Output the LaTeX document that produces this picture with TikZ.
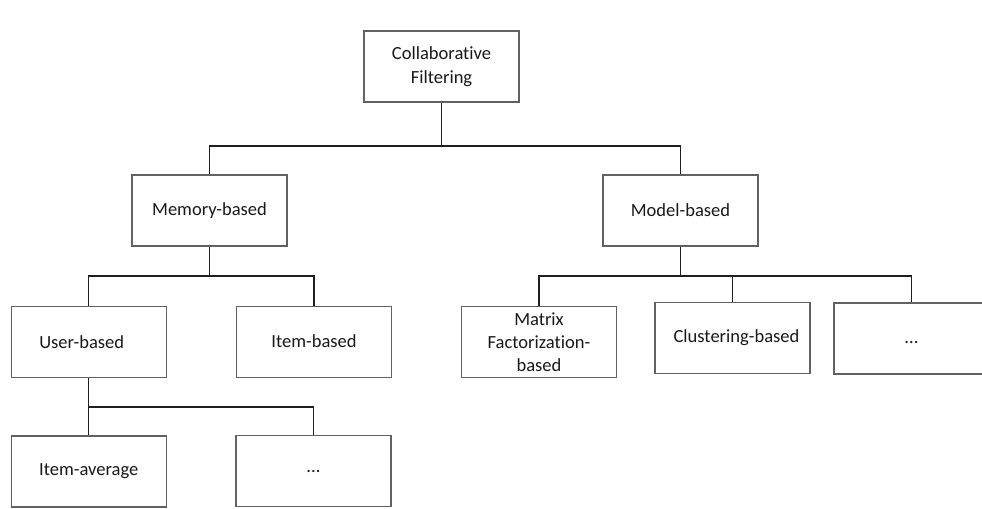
\documentclass[tikz,border=0pt]{standalone}
\usepackage{fontspec}
\setmainfont{Carlito}[Ligatures=NoCommon]
\begin{document}
\begin{tikzpicture}[x=0.75pt,y=-0.75pt,
  box/.style={draw=black!62, line width=0.9pt, fill=white,
    minimum width=116.25pt, minimum height=53.25pt, inner sep=0pt,
    align=center, text=black!90,
    font=\fontsize{13.9pt}{17.5pt}\selectfont},
  link/.style={draw=black!88, line width=1.1pt}]
  % page area, y grows downwards (1 unit = 1px)
  \clip (0,0) rectangle (982,508);
  \fill[white] (0,0) rectangle (982,508);

  % boxes
  \node[box] (cf)     at (441.5, 66.5) {Collaborative\\Filtering};
  \node[box] (mem)    at (209.5,210.5) {Memory-based};
  \node[box] (model)  at (680.5,210.5) {Model-based};
  \node[box] (user)   at ( 88.7,342.2) {User-based\hspace*{10.5pt}};
  \node[box] (item)   at (314.0,342.2) {\raisebox{2pt}{Item-based}};
  \node[box] (mf)     at (539.0,342.2) {Matrix\\Factorization-\\based};
  \node[box] (clus)   at (732.5,337.7) {\hspace*{6pt}Clustering-based};
  \node[box] (more1)  at (911.5,338.5) {\strut...};
  \node[box] (avg)    at ( 88.7,471.5) {Item-average};
  \node[box] (more2)  at (313.5,471.3) {...};

  % heights of the horizontal buses
  \coordinate (bus1) at (0,146);
  \coordinate (bus2) at (0,276);
  \coordinate (bus3) at (0,407);

  % connectors
  \draw[link] (cf.south) -- (cf.south |- bus1) -| (mem.north);
  \draw[link] (cf.south |- bus1) -| (model.north);

  \draw[link] (mem.south) -- (mem.south |- bus2) -| (user.north);
  \draw[link] (mem.south |- bus2) -| (item.north);

  \draw[link] (model.south) -- (model.south |- bus2) -| (mf.north);
  \draw[link] (model.south |- bus2) -| (clus.north);
  \draw[link] (model.south |- bus2) -| (more1.north);

  \draw[link] (user.south) -- (user.south |- bus3) -| (avg.north);
  \draw[link] (user.south |- bus3) -| (more2.north);
\end{tikzpicture}
\end{document}
